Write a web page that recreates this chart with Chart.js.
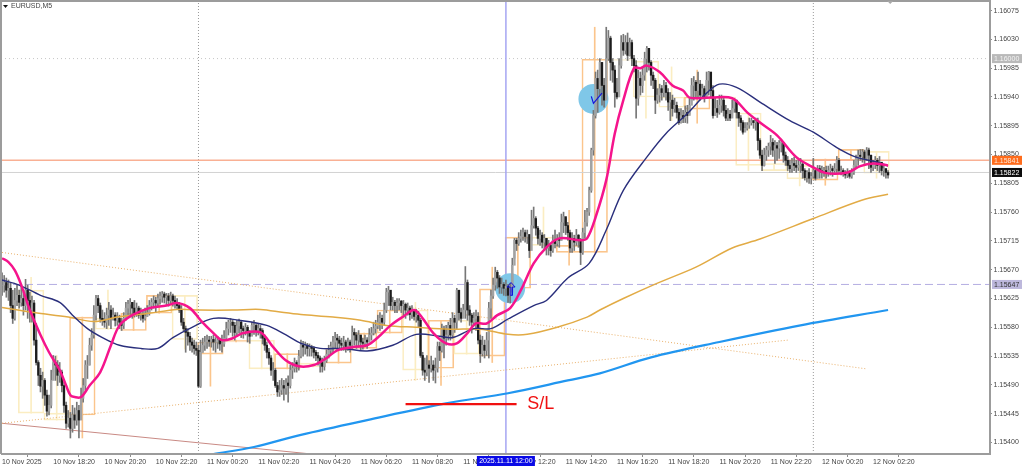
<!DOCTYPE html>
<html>
<head>
<meta charset="utf-8">
<title>EURUSD,M5</title>
<script src="https://cdn.jsdelivr.net/npm/chart.js@4/dist/chart.umd.min.js"></script>
<style>
    html, body { margin: 0; padding: 0; background: #fff; overflow: hidden; }
    canvas { display: block; }
</style>
</head>
<body>
<canvas id="chart" width="1024" height="467"></canvas>
<script>
// all prices below are in points: 15646 means 1.15646
const closePts = [
    15646,15650,15638,15641,15614,15594,15622,15630,15619,15625,15614,15638,15622,15607,15618,15560,15525,15505,15488,15497,15474,15449,15458,15497,
    15525,15521,15505,15510,15489,15458,15430,15438,15422,15443,15435,15450,15435,15469,15489,15521,15521,15552,15568,15599,15625,15614,15594,15591,
    15588,15599,15607,15594,15599,15591,15594,15588,15583,15594,15610,15616,15619,15610,15602,15610,15599,15600,15594,15597,15603,15614,15619,15622,
    15618,15625,15629,15632,15627,15629,15622,15629,15622,15618,15614,15607,15588,15578,15572,15566,15557,15552,15547,15544,15488,15541,15552,15557,
    15560,15558,15561,15557,15557,15560,15554,15554,15563,15578,15588,15588,15583,15572,15582,15588,15578,15575,15580,15572,15566,15583,15583,15575,
    15578,15575,15563,15552,15541,15532,15513,15513,15489,15479,15482,15489,15485,15493,15489,15513,15516,15525,15521,15535,15552,15549,15552,15547,
    15549,15547,15541,15536,15532,15525,15519,15528,15538,15544,15550,15557,15563,15560,15555,15552,15557,15550,15557,15552,15572,15568,15560,15568,
    15557,15555,15560,15557,15568,15571,15578,15582,15588,15594,15588,15607,15635,15638,15614,15619,15614,15618,15621,15614,15616,15607,15610,15600,
    15607,15597,15599,15591,15536,15513,15510,15521,15516,15521,15513,15516,15550,15544,15578,15563,15568,15583,15568,15594,15588,15638,15603,15594,
    15607,15650,15607,15599,15588,15594,15597,15560,15539,15552,15544,15560,15610,15629,15646,15666,15657,15643,15647,15641,15644,15630,15641,15677,
    15716,15711,15719,15722,15728,15722,15725,15700,15739,15750,15735,15719,15724,15713,15719,15704,15708,15700,15716,15711,15719,15716,15744,15753,
    15739,15728,15704,15719,15713,15724,15716,15697,15728,15744,15760,15794,15857,15911,15969,15953,15994,15958,15935,16000,16032,15994,15982,15947,
    15940,15989,16025,16013,16025,16005,16025,16000,15989,15938,15969,15958,15974,16000,16016,15994,15974,15966,15935,15943,15953,15947,15958,15947,
    15932,15935,15922,15927,15916,15900,15911,15907,15916,15911,15927,15958,15963,15950,15960,15943,15953,15941,15966,15979,15950,15911,15922,15916,
    15927,15935,15919,15907,15913,15907,15922,15935,15916,15907,15900,15885,15891,15896,15900,15903,15900,15902,15872,15849,15833,15849,15857,15863,
    15869,15857,15864,15860,15868,15869,15849,15841,15833,15828,15836,15833,15830,15833,15835,15825,15814,15822,15813,15816,15825,15813,15828,15825,
    15822,15825,15822,15825,15828,15825,15828,15841,15825,15825,15822,15818,15822,15816,15822,15833,15844,15849,15847,15854,15844,15857,15849,15830,15835,15841,15833,15838,15825,15828,15822,15818
];
const highPts = [
    15665,15661,15657,15654,15650,15638,15641,15646,15638,15647,15635,15655,15646,15635,15629,15622,15586,15528,15516,15510,15500,15482,15474,15513,
    15536,15535,15528,15525,15513,15494,15463,15450,15447,15458,15454,15463,15458,15485,15500,15528,15536,15563,15578,15614,15630,15630,15618,15607,
    15603,15610,15619,15614,15610,15603,15603,15599,15594,15603,15619,15622,15625,15619,15622,15618,15613,15610,15607,15610,15614,15622,15625,15629,
    15627,15632,15635,15636,15635,15633,15633,15635,15632,15629,15625,15619,15614,15594,15582,15578,15572,15563,15560,15557,15552,15560,15563,15566,
    15568,15566,15566,15568,15564,15566,15563,15568,15575,15588,15591,15594,15591,15588,15591,15593,15591,15582,15586,15583,15575,15588,15591,15586,
    15586,15583,15578,15568,15557,15547,15536,15525,15516,15494,15497,15500,15497,15500,15504,15521,15525,15532,15528,15544,15560,15558,15557,15555,
    15554,15552,15550,15544,15541,15535,15532,15535,15544,15552,15557,15566,15572,15569,15566,15563,15566,15560,15563,15560,15582,15578,15572,15575,
    15566,15563,15568,15564,15578,15580,15588,15591,15599,15603,15599,15618,15641,15644,15629,15627,15622,15625,15625,15622,15622,15618,15618,15613,
    15614,15607,15608,15605,15594,15541,15532,15536,15528,15535,15528,15532,15557,15557,15585,15582,15583,15588,15594,15603,15599,15641,15635,15610,
    15616,15675,15654,15614,15602,15603,15607,15603,15568,15566,15560,15572,15619,15638,15657,15674,15669,15661,15657,15650,15654,15647,15649,15688,
    15719,15719,15728,15732,15735,15732,15732,15725,15763,15768,15753,15738,15732,15728,15725,15719,15716,15711,15724,15732,15725,15728,15757,15760,
    15750,15744,15732,15728,15724,15733,15725,15719,15735,15763,15766,15799,15860,15919,15979,15982,16000,15994,15969,16049,16044,16035,16000,15989,
    15969,16000,16036,16038,16036,16040,16032,16029,16005,15997,15982,15979,15985,16010,16019,16013,15997,15979,15969,15953,15960,15958,15966,15963,
    15953,15947,15943,15938,15932,15922,15922,15919,15926,15927,15938,15969,15972,15966,15979,15966,15960,15957,15979,15980,15972,15958,15938,15935,
    15943,15943,15938,15927,15922,15919,15935,15938,15935,15916,15911,15903,15900,15900,15907,15907,15903,15907,15907,15875,15857,15860,15863,15868,
    15880,15875,15872,15869,15872,15874,15864,15854,15847,15841,15844,15846,15841,15841,15844,15838,15828,15825,15828,15822,15844,15828,15833,15833,
    15832,15830,15832,15832,15835,15832,15836,15847,15844,15832,15828,15825,15828,15825,15828,15841,15849,15857,15858,15858,15857,15861,15860,15849,15841,15847,15844,15847,15836,15835,15828,15825
];
const lowPts = [
    15630,15635,15627,15622,15603,15586,15591,15614,15610,15613,15599,15607,15594,15588,15588,15552,15521,15489,15479,15469,15458,15441,15443,15454,
    15510,15497,15489,15494,15479,15447,15422,15424,15407,15416,15422,15427,15407,15443,15463,15482,15500,15521,15544,15563,15591,15603,15588,15583,
    15580,15578,15583,15578,15591,15582,15583,15578,15575,15578,15591,15597,15599,15594,15596,15597,15594,15591,15588,15591,15597,15599,15607,15610,
    15603,15613,15616,15619,15618,15614,15613,15616,15613,15610,15608,15603,15583,15574,15541,15552,15544,15541,15538,15536,15486,15486,15541,15544,
    15547,15550,15549,15544,15541,15547,15544,15541,15550,15560,15568,15572,15566,15560,15566,15571,15564,15563,15568,15557,15555,15568,15569,15566,
    15568,15563,15554,15544,15532,15522,15505,15497,15486,15472,15472,15475,15466,15475,15463,15485,15500,15510,15510,15513,15532,15535,15538,15535,
    15535,15535,15532,15528,15521,15510,15510,15513,15525,15532,15538,15541,15547,15544,15547,15544,15544,15541,15544,15541,15547,15552,15547,15549,
    15544,15546,15550,15547,15557,15560,15568,15571,15578,15575,15578,15583,15603,15614,15607,15607,15603,15603,15607,15603,15597,15594,15599,15591,
    15594,15591,15588,15580,15533,15505,15497,15504,15494,15510,15497,15493,15510,15528,15541,15532,15552,15560,15560,15563,15572,15578,15591,15588,
    15597,15594,15591,15583,15571,15582,15575,15554,15525,15535,15532,15536,15532,15594,15625,15638,15641,15633,15633,15630,15629,15619,15618,15635,
    15688,15700,15708,15713,15716,15713,15711,15689,15716,15735,15724,15710,15708,15704,15700,15693,15693,15691,15697,15704,15707,15705,15716,15728,
    15725,15716,15697,15697,15700,15708,15705,15678,15694,15719,15738,15755,15791,15849,15907,15916,15943,15927,15924,15966,15997,15966,15963,15924,
    15937,15950,15985,16005,16007,15997,16004,15989,15979,15907,15927,15943,15947,15966,15979,15982,15958,15953,15914,15930,15932,15935,15940,15935,
    15919,15903,15910,15916,15907,15897,15899,15900,15900,15899,15913,15935,15935,15938,15938,15935,15938,15932,15938,15943,15938,15907,15911,15908,
    15913,15916,15910,15903,15903,15903,15910,15916,15907,15894,15888,15882,15888,15888,15891,15896,15891,15888,15857,15844,15825,15832,15841,15847,
    15850,15847,15836,15841,15844,15854,15838,15833,15825,15822,15822,15825,15822,15825,15822,15813,15810,15807,15805,15804,15813,15810,15813,15813,
    15813,15816,15813,15816,15818,15816,15822,15822,15822,15818,15816,15813,15814,15813,15813,15819,15828,15833,15841,15838,15836,15841,15828,15822,15825,15828,15825,15822,15818,15816,15813,15813
];

// moving averages, read at the bar numbers in the *Idx lists
const pinkIdx = [0,3,6,9,13,18,22,27,30,32,34,37,41,46,51,55,61,69,77,82,88,93,99,103,108,113,121,127,133,139,146,152,157,164,171,176,182,188,193,197,202,208,213,218,222,227,232,238,243,249,255,261,271,274,278,283,287,291,296,299,302,308,314,319,322,332,342,349,355,363,372,380,386,396,402,408,415];
const pinkPts = [15688,15682,15669,15646,15607,15568,15541,15513,15489,15474,15471,15471,15489,15510,15552,15583,15599,15610,15614,15618,15610,15591,15571,15560,15563,15571,15572,15549,15528,15519,15521,15532,15544,15549,15552,15564,15583,15597,15607,15594,15571,15555,15555,15571,15586,15586,15599,15610,15638,15680,15705,15719,15716,15719,15752,15810,15883,15935,15985,15985,15989,15979,15958,15950,15939,15939,15938,15916,15900,15880,15846,15830,15821,15822,15832,15836,15833];
const navyIdx = [0,8,18,27,33,40,47,55,65,73,80,89,99,111,124,133,140,149,160,171,183,194,205,211,221,229,237,249,255,265,275,283,291,302,311,321,330,336,344,355,369,380,391,400,410,415];
const navyPts = [15654,15646,15630,15619,15599,15578,15564,15552,15547,15547,15564,15580,15594,15591,15583,15568,15555,15547,15547,15543,15552,15569,15566,15564,15578,15578,15593,15614,15622,15657,15680,15732,15794,15846,15883,15914,15946,15960,15955,15932,15903,15885,15861,15846,15838,15832];
const goldIdx = [0,15,31,43,54,69,82,93,108,121,132,140,155,168,180,194,210,224,237,246,260,274,280,291,307,325,342,355,380,403,415];
const goldPts = [15611,15603,15596,15589,15596,15602,15608,15607,15607,15608,15603,15600,15596,15591,15583,15580,15577,15577,15569,15569,15580,15596,15607,15625,15649,15674,15704,15718,15750,15779,15788];
const blueIdx = [99,118,140,171,208,237,265,280,304,336,374,415];
const bluePts = [15382,15393,15412,15435,15461,15477,15497,15508,15533,15557,15583,15607];

// hourly candles drawn as hollow boxes behind the M5 bars
const htfIdx = [13.6,25.6,37.6,49.6,61.6,73.6,85.6,97.6,109.6,121.6,133.6,145.6,157.6,169.6,181.6,193.6,205.6,217.6,229.6,241.6,253.6,265.6,277.6,289.6,301.6,313.6,325.6,337.6,349.6,361.6,373.6,385.6,397.6,409.6];
const htfTop = [15638,15446,15596,15594,15602,15630,15630,15557,15560,15560,15539,15524,15547,15571,15607,15607,15591,15591,15640,15721,15721,15708,15999,15999,15996,15940,15940,15940,15915,15836,15833,15843,15858,15855];
const htfBottom = [15446,15435,15443,15577,15575,15602,15561,15538,15557,15515,15515,15518,15524,15547,15571,15513,15516,15538,15535,15641,15708,15697,15697,15997,15940,15924,15921,15937,15833,15825,15812,15810,15841,15821];
const htfWickHigh = [15658,15536,null,15638,null,null,null,null,null,null,null,null,null,null,null,15619,null,null,15674,null,15768,15763,16049,null,null,15987,15982,null,null,null,null,null,null,null];
const htfWickLow = [null,null,15407,null,null,null,15546,15488,null,null,null,null,null,null,null,15497,15489,null,15525,null,null,15677,null,null,15907,15903,15899,null,15825,null,15801,15802,null,15813];
const htfRising = [false,false,true,false,true,true,false,true,true,false,true,false,true,true,true,false,true,false,true,true,false,true,true,false,false,false,true,false,false,false,false,true,true,false];

// trend lines and levels
const fallLineIdx = [0, 405];
const fallLinePts = [15697, 15515];
const riseLineIdx = [0, 368];
const riseLinePts = [15430, 15560];
const redLineIdx = [0, 145];
const redLinePts = [15430, 15382];
const stopIdx = [189, 241];
const stopPts = [15460, 15460];
const signalIdx = [238, 277];
const signalPts = [15641, 15937];
const arrowUpIdx = [238, 238, 236.5, 238.4, 240.3, 239, 239, 238];
const arrowUpPts = [15630, 15643, 15643, 15650, 15643, 15643, 15630, 15630];
const arrowDiagIdx = [276, 277, 281];
const arrowDiagPts = [15941, 15930, 15946];
const dayBreakIdx = [92, 380];
const crosshairIdx = 236;

const levelPts = [16000, 15841, 15822, 15647];
const levelLabels = ['1.16000', '1.15841', '1.15822', '1.15647'];

const priceTicks = [16075,16030,15985,15940,15895,15850,15805,15760,15715,15670,15625,15580,15535,15490,15445,15400];
const timeTickIdx = [0,24,48,72,96,120,144,168,192,216,240,264,288,312,336,360,384,408];
const timeTickLabels = ['10 Nov 2025','10 Nov 18:20','10 Nov 20:20','10 Nov 22:20','11 Nov 00:20','11 Nov 02:20','11 Nov 04:20','11 Nov 06:20','11 Nov 08:20','11 Nov 10:20','11 Nov 12:20','11 Nov 14:20','11 Nov 16:20','11 Nov 18:20','11 Nov 20:20','11 Nov 22:20','12 Nov 00:20','12 Nov 02:20'];

const X_MIN = -0.5;
const X_MAX = 462.75;
const Y_MIN = 15382;
const Y_MAX = 16090;
const AXIS_FONT = { family: '"Liberation Sans", Arial, sans-serif', size: 7 };

const toPrice = p => 1 + p / 100000;
const points = (idx, pts) => idx.map((x, i) => ({ x: x, y: toPrice(pts[i]) }));

function lineSet(idx, pts, color, width, order, extra) {
    return Object.assign({
        type: 'line',
        data: points(idx, pts),
        borderColor: color,
        borderWidth: width,
        pointRadius: 0,
        fill: false,
        order: order
    }, extra || {});
}

function smoothSet(idx, pts, color, width, order) {
    return lineSet(idx, pts, color, width, order, { tension: 0.35 });
}

function barSet(data, thickness, colors, order, extra) {
    return Object.assign({
        type: 'bar',
        data: data,
        grouped: false,
        barThickness: thickness,
        backgroundColor: colors,
        borderWidth: 0,
        order: order
    }, extra || {});
}

// no space kept for labels that stick out past the plot
function dropPadding(scale) {
    scale.paddingLeft = 0;
    scale.paddingRight = 0;
    scale.paddingTop = 0;
    scale.paddingBottom = 0;
}

// M5 bars: wick from high to low, body from previous close to close
const opens = closePts.map((c, i) => (i === 0 ? c : closePts[i - 1]));
const wickData = closePts.map((c, i) => ({ x: i, y: [toPrice(lowPts[i]), toPrice(highPts[i])] }));
const bodyData = closePts.map((c, i) => ({ x: i, y: [toPrice(opens[i]), toPrice(c)] }));
const bodyColors = closePts.map((c, i) => (c >= opens[i] ? '#a2a2a2' : '#1c1c1c'));

const htfColor = htfRising.map(up => (up ? '#fbc58c' : '#fbedc2'));
const htfBoxes = htfIdx.map((x, i) => ({ x: x, y: [toPrice(htfBottom[i]), toPrice(htfTop[i])] }));
const htfWicks = htfIdx.map((x, i) => ({
    x: x,
    y: [toPrice(htfWickLow[i] == null ? htfBottom[i] : htfWickLow[i]), toPrice(htfWickHigh[i] == null ? htfTop[i] : htfWickHigh[i])]
}));

const fullWidth = [X_MIN, X_MAX];
const datasets = [
    barSet(htfWicks, 1, htfColor, 60),
    barSet(htfBoxes, 25.6, 'rgba(255,255,255,0)', 59, { borderColor: htfColor, borderWidth: 1, borderSkipped: false }),
    lineSet(fallLineIdx, fallLinePts, '#e9b06a', 1, 50, { borderDash: [1, 2] }),
    lineSet(riseLineIdx, riseLinePts, '#e9b06a', 1, 50, { borderDash: [1, 2] }),
    lineSet(redLineIdx, redLinePts, '#c98a84', 1, 50),
    lineSet(fullWidth, [levelPts[0], levelPts[0]], '#c6c6c6', 1, 55, { borderDash: [1, 3] }),
    lineSet(fullWidth, [levelPts[3], levelPts[3]], '#b4aee2', 1, 55, { borderDash: [8, 4] }),
    lineSet(fullWidth, [levelPts[1], levelPts[1]], '#f9b094', 1.5, 55),
    lineSet(fullWidth, [levelPts[2], levelPts[2]], '#d2d2d2', 1, 55),
    lineSet([dayBreakIdx[0], dayBreakIdx[0]], [Y_MIN, Y_MAX], '#9a9a9a', 1, 55, { borderDash: [1, 2] }),
    lineSet([dayBreakIdx[1], dayBreakIdx[1]], [Y_MIN, Y_MAX], '#9a9a9a', 1, 55, { borderDash: [1, 2] }),
    lineSet([crosshairIdx, crosshairIdx], [Y_MIN, Y_MAX], '#a5a5f2', 1.5, 54),
    lineSet(signalIdx, signalPts, 'rgba(0,0,0,0)', 0, 40, { showLine: false, pointRadius: 15, pointBackgroundColor: '#7fc7e8', pointBorderWidth: 0 }),
    barSet(wickData, 1, '#777777', 30),
    barSet(bodyData, 1.7, bodyColors, 29),
    lineSet(arrowUpIdx, arrowUpPts, '#1414dc', 1, 12),
    lineSet(arrowDiagIdx, arrowDiagPts, '#1414dc', 1.2, 12),
    smoothSet(blueIdx, bluePts, '#2196f0', 2.2, 8),
    smoothSet(goldIdx, goldPts, '#e2ab45', 1.5, 7),
    smoothSet(navyIdx, navyPts, '#2a2f7c', 1.4, 6),
    smoothSet(pinkIdx, pinkPts, '#f5148c', 2.5, 5),
    lineSet(stopIdx, stopPts, '#f01010', 2.4, 3)
];

const framePlugin = {
    id: 'frame',
    afterDraw(chart) {
        const ctx = chart.ctx;
        const a = chart.chartArea;
        const xs = chart.scales.x;
        const ys = chart.scales.y;
        ctx.save();

        ctx.strokeStyle = '#9c9c9c';
        ctx.lineWidth = 2;
        ctx.beginPath();
        ctx.moveTo(a.left, a.bottom);
        ctx.lineTo(a.left, a.top);
        ctx.lineTo(a.right, a.top);
        ctx.lineTo(a.right, a.bottom);
        ctx.lineTo(a.left, a.bottom);
        ctx.stroke();

        // small shift marker hanging from the top edge
        const mx = xs.getPixelForValue(416);
        ctx.fillStyle = '#a8a8a8';
        ctx.beginPath();
        ctx.moveTo(mx - 3, a.top);
        ctx.lineTo(mx + 3, a.top);
        ctx.lineTo(mx, a.top + 3);
        ctx.fill();

        // symbol caption
        ctx.fillStyle = '#111';
        ctx.beginPath();
        ctx.moveTo(3, 5);
        ctx.lineTo(8, 5);
        ctx.lineTo(5.5, 8);
        ctx.fill();
        ctx.font = '7px "Liberation Sans", Arial, sans-serif';
        ctx.textBaseline = 'middle';
        ctx.textAlign = 'left';
        ctx.fillStyle = '#444';
        ctx.fillText('EURUSD,M5', 11, 6);

        // price tags on the right axis
        const tagFill = ['#b9b9b9', '#ff6c1c', '#0c0c0c', '#bdb8dc'];
        const tagText = ['#f4f4f4', '#ffe9d8', '#ffffff', '#333333'];
        levelPts.forEach((p, i) => {
            const y = ys.getPixelForValue(toPrice(p));
            ctx.fillStyle = tagFill[i];
            ctx.fillRect(a.right + 2, y - 4.5, 30, 9);
            ctx.fillStyle = tagText[i];
            ctx.fillText(levelLabels[i], a.right + 4, y + 0.5);
        });

        // crosshair date flag, sits over the time axis labels
        const cx = xs.getPixelForValue(crosshairIdx);
        ctx.fillStyle = '#0a0ae6';
        ctx.fillRect(cx - 29, a.bottom + 2, 58, 10);
        ctx.fillStyle = '#ffffff';
        ctx.textAlign = 'center';
        ctx.fillText('2025.11.11 12:00', cx, a.bottom + 7.5);

        // stop loss caption
        ctx.fillStyle = '#f01010';
        ctx.textAlign = 'left';
        ctx.font = '18px "Liberation Sans", Arial, sans-serif';
        ctx.fillText('S/L', xs.getPixelForValue(246), ys.getPixelForValue(toPrice(stopPts[0])));
        ctx.restore();
    }
};

new Chart(document.getElementById('chart'), {
    type: 'bar',
    data: { datasets: datasets },
    plugins: [framePlugin],
    options: {
        responsive: false,
        animation: false,
        events: [],
        layout: { autoPadding: false, padding: { left: 1, top: 1, right: 0, bottom: 0 } },
        plugins: { legend: { display: false }, tooltip: { enabled: false } },
        scales: {
            x: {
                type: 'linear',
                offset: false,
                min: X_MIN,
                max: X_MAX,
                border: { display: false },
                grid: { drawOnChartArea: false, color: '#8c8c8c', tickLength: 3 },
                afterBuildTicks(scale) { scale.ticks = timeTickIdx.map(v => ({ value: v })); },
                afterFit(scale) { scale.height = 13; dropPadding(scale); },
                ticks: {
                    autoSkip: false,
                    maxRotation: 0,
                    align: 'start',
                    padding: 1,
                    color: '#444',
                    font: AXIS_FONT,
                    callback: v => timeTickLabels[timeTickIdx.indexOf(v)]
                }
            },
            y: {
                position: 'right',
                min: toPrice(Y_MIN),
                max: toPrice(Y_MAX),
                border: { display: false },
                grid: { drawOnChartArea: false, color: '#8c8c8c', tickLength: 2 },
                afterBuildTicks(scale) { scale.ticks = priceTicks.map(p => ({ value: toPrice(p) })); },
                afterFit(scale) { scale.width = 34; dropPadding(scale); },
                ticks: {
                    autoSkip: false,
                    padding: 1.5,
                    color: '#444',
                    font: AXIS_FONT,
                    callback: v => v.toFixed(5)
                }
            }
        }
    }
});
</script>
</body>
</html>
